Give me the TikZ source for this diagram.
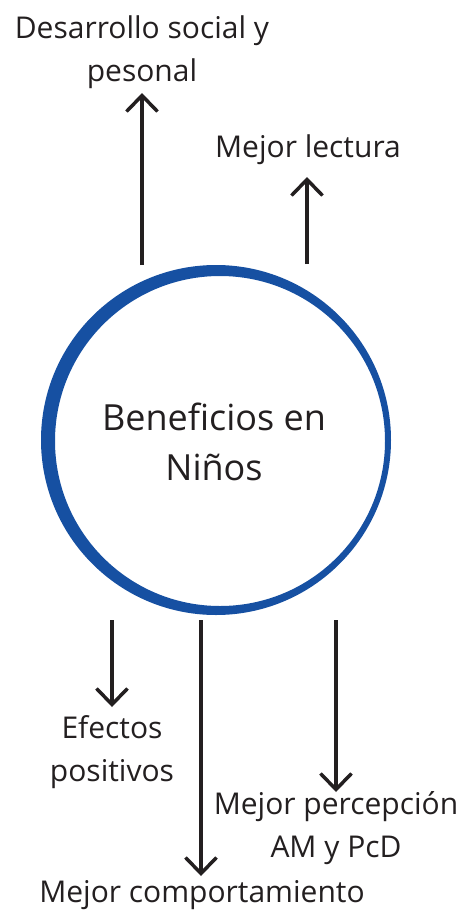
\documentclass[tikz,border=0pt]{standalone}
\usepackage{fontspec}
\setmainfont{Open Sans}
\usetikzlibrary{arrows.meta}
\definecolor{ink}{HTML}{231F20}
\definecolor{brush}{HTML}{1650A2}
\tikzset{
  lbl/.style={text=ink, font=\fontsize{30}{43}\selectfont, inner sep=0pt, align=center},
  big/.style={text=ink, font=\fontsize{36}{50}\selectfont, inner sep=0pt, align=center},
  conn/.style={draw=ink, line width=3.5pt, -{Straight Barb[length=16pt, width=31pt, line width=3.5pt]}}
}
\begin{document}
\begin{tikzpicture}[x=1pt, y=-1pt]
\useasboundingbox (0,0) rectangle (460,911);
% brush circle
\fill[brush, even odd rule] (216,440) circle (175) (220,441) circle (165);
\node[big] (center) at (214,442) {Beneficios en\\Niños};
% labels
\node[lbl] (dsp) at (142,52) {Desarrollo social y\\pesonal};
\node[lbl] (ml) at (308,150) {Mejor lectura};
\node[lbl] (ep) at (112,752) {Efectos\\positivos};
\node[lbl] (mp) at (336,828) {Mejor percepción\\AM y PcD};
\node[lbl] (mc) at (202,895) {Mejor comportamiento};
% arrow ends
\coordinate (a1s) at (142,265); \coordinate (a1e) at (142,93);
\coordinate (a2s) at (307,264); \coordinate (a2e) at (307,177);
\coordinate (a3s) at (112,620); \coordinate (a3e) at (112,707);
\coordinate (a4s) at (201,620); \coordinate (a4e) at (201,876);
\coordinate (a5s) at (336,620); \coordinate (a5e) at (336,792);
\draw[conn] (a1s) -- (a1e);
\draw[conn] (a2s) -- (a2e);
\draw[conn] (a3s) -- (a3e);
\draw[conn] (a4s) -- (a4e);
\draw[conn] (a5s) -- (a5e);
\end{tikzpicture}
\end{document}
